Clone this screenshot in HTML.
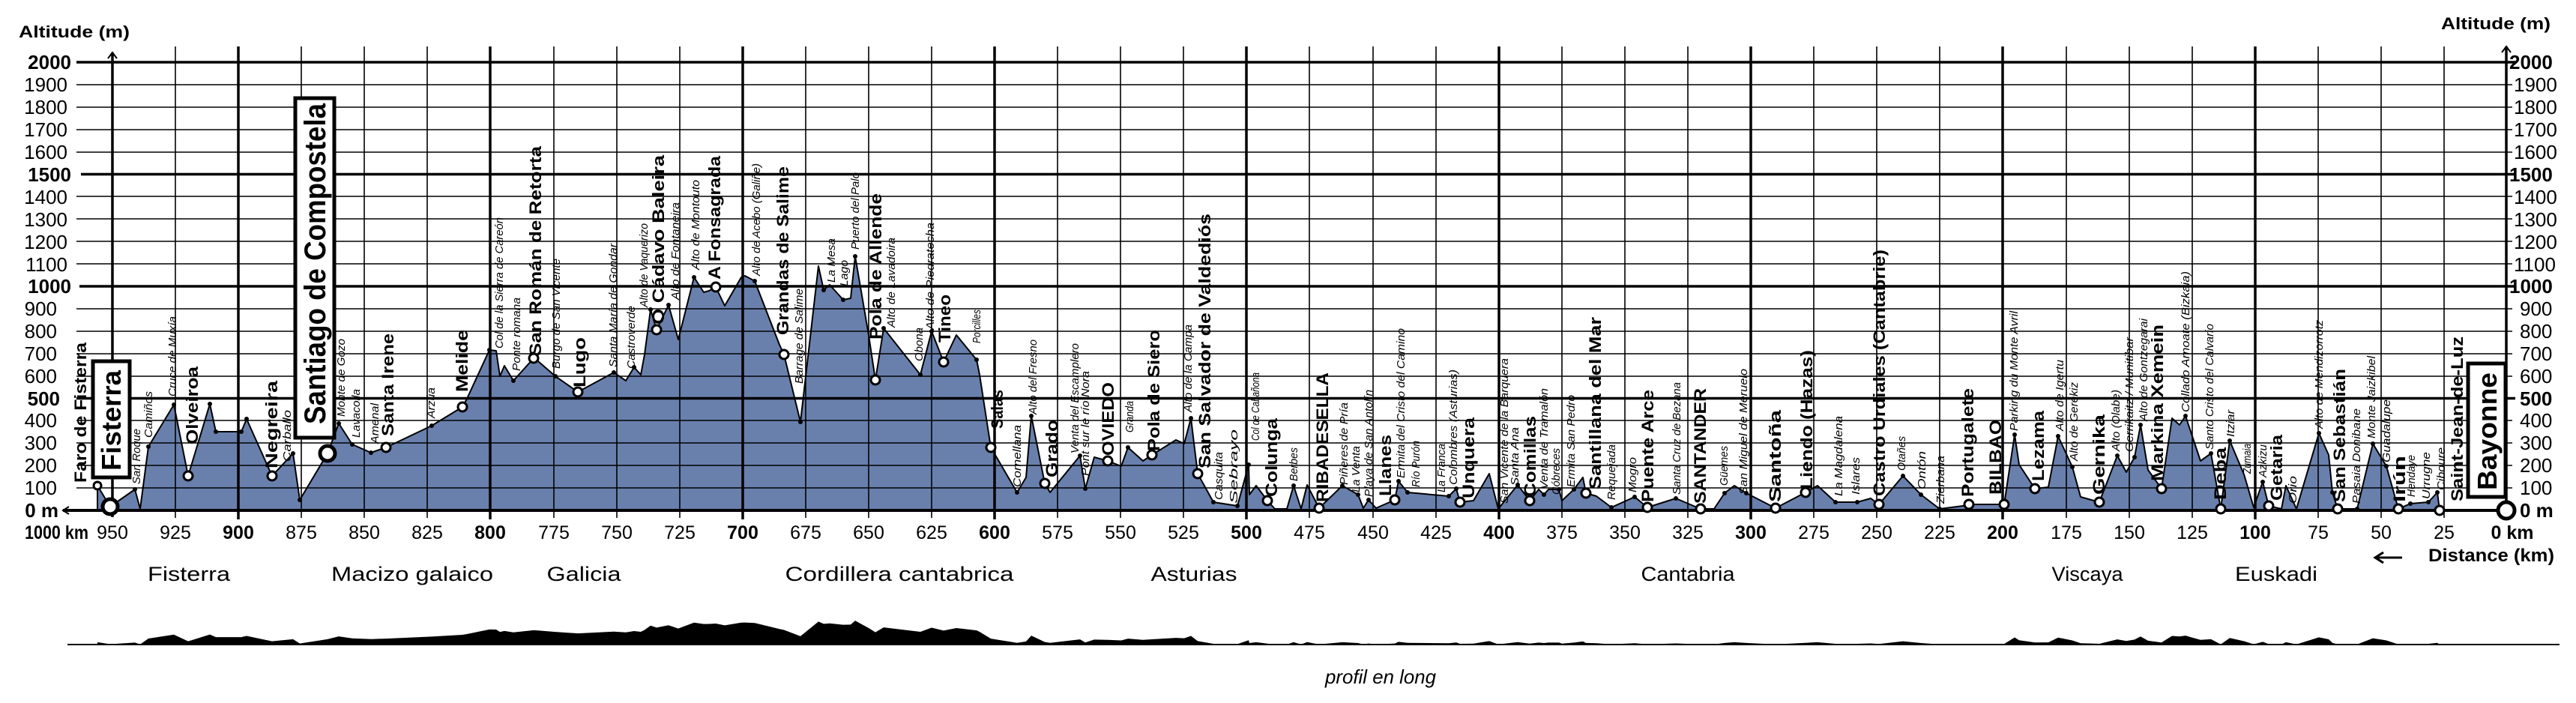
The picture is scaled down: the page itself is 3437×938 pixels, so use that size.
<!DOCTYPE html>
<html><head><meta charset="utf-8"><style>
html,body{margin:0;padding:0;background:#fff;}
svg{display:block;}
text{font-family:"Liberation Sans",sans-serif;fill:#000;}
.b{font-weight:bold;font-size:22px;}
.i{font-style:italic;font-size:15px;}
.ax{font-size:26px;}
.axb{font-size:26px;font-weight:bold;}
.km{font-size:25px;}
.kmb{font-size:25px;font-weight:bold;}
.rg{font-size:27px;}
</style></head><body>
<svg width="3437" height="938" viewBox="0 0 3437 938" xmlns="http://www.w3.org/2000/svg">
<defs>
<polygon id="prof" points="130,681 130,648 147,676 180,653 187,679 198,596 232,540 251,635 280,539 288,576 322,576 329,559 363,635 391,605 400,667 437,605 452,565 470,593 495,604 515,597 576,568 617,543 623,532 653,467 662,468 667,502 673,488 685,508 712,478 718,482 741,502 771,523 819,497 835,508 846,490 855,500 860,473 868,413 876,440 892,407 905,453 926,370 939,390 946,388 955,383 967,408 989,370 994,368 1007,375 1040,460 1046,473 1068,563 1092,355 1099,387 1107,380 1125,400 1135,398 1141,342 1159,447 1168,507 1179,438 1228,500 1243,442 1259,483 1276,447 1303,480 1307,500 1322,597 1357,657 1369,637 1376,555 1394,645 1401,657 1441,608 1448,652 1460,610 1478,615 1496,622 1505,597 1525,615 1537,607 1569,587 1580,592 1589,558 1598,632 1619,670 1651,675 1666,620 1667,660 1676,648 1691,668 1701,679 1717,679 1726,648 1736,679 1744,647 1760,678 1791,648 1812,660 1819,678 1826,667 1836,678 1861,667 1866,642 1878,657 1933,662 1943,652 1948,670 1966,668 1987,632 1999,679 2025,647 2041,668 2053,653 2060,660 2066,653 2080,653 2084,668 2100,653 2112,637 2116,658 2130,662 2150,677 2181,663 2198,677 2236,665 2269,679 2287,679 2301,658 2314,648 2330,658 2369,678 2409,657 2425,648 2449,670 2478,670 2496,665 2507,673 2539,635 2563,660 2588,679 2619,675 2627,673 2674,673 2688,580 2694,620 2715,652 2733,650 2746,582 2765,623 2776,663 2801,670 2825,608 2837,630 2848,610 2856,567 2866,627 2884,652 2898,558 2908,567 2916,555 2936,615 2950,605 2963,679 2975,588 2994,633 3007,677 3019,643 3027,675 3044,679 3050,648 3064,679 3094,578 3107,607 3112,657 3119,679 3145,679 3166,592 3184,622 3200,679 3216,672 3240,670 3252,657 3255,681 3344,681"/>
</defs>

<!-- fill -->
<use href="#prof" fill="#6980ad"/>

<!-- horizontal grid -->
<g stroke="#000" stroke-width="1.6">
<line x1="102" y1="651" x2="3352" y2="651"/>
<line x1="102" y1="621" x2="3352" y2="621"/>
<line x1="102" y1="591" x2="3352" y2="591"/>
<line x1="102" y1="561" x2="3352" y2="561"/>
<line x1="102" y1="502" x2="3352" y2="502"/>
<line x1="102" y1="472" x2="3352" y2="472"/>
<line x1="102" y1="442" x2="3352" y2="442"/>
<line x1="102" y1="412" x2="3352" y2="412"/>
<line x1="102" y1="352" x2="3352" y2="352"/>
<line x1="102" y1="322" x2="3352" y2="322"/>
<line x1="102" y1="292" x2="3352" y2="292"/>
<line x1="102" y1="262" x2="3352" y2="262"/>
<line x1="102" y1="203" x2="3352" y2="203"/>
<line x1="102" y1="173" x2="3352" y2="173"/>
<line x1="102" y1="143" x2="3352" y2="143"/>
<line x1="102" y1="113" x2="3352" y2="113"/>
</g>
<g stroke="#000" stroke-width="3.5">
<line x1="102" y1="531.5" x2="3356" y2="531.5"/>
<line x1="106" y1="382" x2="3356" y2="382"/>
<line x1="108" y1="232.5" x2="3356" y2="232.5"/>
<line x1="102" y1="83" x2="3356" y2="83"/>
</g>
<!-- vertical grid -->
<g stroke="#000" stroke-width="1.6">
<line x1="234" y1="62" x2="234" y2="691"/><line x1="318" y1="62" x2="318" y2="691"/><line x1="402" y1="62" x2="402" y2="691"/><line x1="486" y1="62" x2="486" y2="691"/><line x1="570" y1="62" x2="570" y2="691"/>
<line x1="739" y1="62" x2="739" y2="691"/><line x1="823" y1="62" x2="823" y2="691"/><line x1="907" y1="62" x2="907" y2="691"/>
<line x1="1075" y1="62" x2="1075" y2="691"/><line x1="1159" y1="62" x2="1159" y2="691"/><line x1="1243" y1="62" x2="1243" y2="691"/>
<line x1="1411" y1="62" x2="1411" y2="691"/><line x1="1495" y1="62" x2="1495" y2="691"/><line x1="1579" y1="62" x2="1579" y2="691"/>
<line x1="1747" y1="62" x2="1747" y2="691"/><line x1="1832" y1="62" x2="1832" y2="691"/><line x1="1916" y1="62" x2="1916" y2="691"/>
<line x1="2084" y1="62" x2="2084" y2="691"/><line x1="2168" y1="62" x2="2168" y2="691"/><line x1="2252" y1="62" x2="2252" y2="691"/>
<line x1="2420" y1="62" x2="2420" y2="691"/><line x1="2504" y1="62" x2="2504" y2="691"/><line x1="2588" y1="62" x2="2588" y2="691"/>
<line x1="2757" y1="62" x2="2757" y2="691"/><line x1="2841" y1="62" x2="2841" y2="691"/><line x1="2925" y1="62" x2="2925" y2="691"/>
<line x1="3093" y1="62" x2="3093" y2="691"/><line x1="3177" y1="62" x2="3177" y2="691"/><line x1="3261" y1="62" x2="3261" y2="691"/>
</g>
<g stroke="#000" stroke-width="3.5">
<line x1="318" y1="62" x2="318" y2="693"/><line x1="654" y1="62" x2="654" y2="693"/><line x1="991" y1="62" x2="991" y2="693"/><line x1="1327" y1="62" x2="1327" y2="693"/><line x1="1663" y1="62" x2="1663" y2="693"/><line x1="2000" y1="62" x2="2000" y2="693"/><line x1="2336" y1="62" x2="2336" y2="693"/><line x1="2672" y1="62" x2="2672" y2="693"/><line x1="3009" y1="62" x2="3009" y2="693"/>
</g>
<!-- axes -->
<g stroke="#000" stroke-width="3.5" fill="none">
<line x1="150" y1="70" x2="150" y2="690"/>
<polyline points="144,78 150,70 156,78" stroke-width="2"/>
<line x1="3344" y1="62" x2="3344" y2="681"/>
<polyline points="3338,70 3344,62 3350,70" stroke-width="2"/>
<line x1="84" y1="681" x2="3344" y2="681" stroke-width="4"/>
<polyline points="92,676 84,681 92,686" stroke-width="2"/>
</g>

<!-- profile outline -->
<use href="#prof" fill="none" stroke="#000" stroke-width="2" stroke-linejoin="round"/>

<!-- small dots -->
<g fill="#000">
<circle cx="180" cy="653" r="3"/><circle cx="198" cy="596" r="3"/><circle cx="232" cy="540" r="3"/><circle cx="280" cy="539" r="3"/><circle cx="288" cy="576" r="3"/><circle cx="322" cy="576" r="3"/><circle cx="329" cy="559" r="3"/><circle cx="391" cy="605" r="3"/><circle cx="400" cy="667" r="3"/><circle cx="452" cy="565" r="3"/><circle cx="470" cy="593" r="3"/><circle cx="495" cy="604" r="3"/><circle cx="576" cy="568" r="3"/><circle cx="653" cy="467" r="3"/><circle cx="685" cy="508" r="3"/><circle cx="741" cy="502" r="3"/><circle cx="819" cy="497" r="3"/><circle cx="846" cy="490" r="3"/><circle cx="868" cy="413" r="3"/><circle cx="892" cy="407" r="3"/><circle cx="926" cy="370" r="3"/><circle cx="1007" cy="375" r="3"/><circle cx="1068" cy="563" r="3"/><circle cx="1099" cy="387" r="3"/><circle cx="1125" cy="400" r="3"/><circle cx="1141" cy="342" r="3"/><circle cx="1179" cy="438" r="3"/><circle cx="1228" cy="500" r="3"/><circle cx="1243" cy="442" r="3"/><circle cx="1303" cy="480" r="3"/><circle cx="1357" cy="657" r="3"/><circle cx="1376" cy="555" r="3"/><circle cx="1441" cy="608" r="3"/><circle cx="1448" cy="652" r="3"/><circle cx="1505" cy="597" r="3"/><circle cx="1589" cy="558" r="3"/><circle cx="1619" cy="670" r="3"/><circle cx="1651" cy="675" r="3"/><circle cx="1666" cy="620" r="3"/><circle cx="1726" cy="648" r="3"/><circle cx="1791" cy="648" r="3"/><circle cx="1812" cy="660" r="3"/><circle cx="1826" cy="667" r="3"/><circle cx="1866" cy="642" r="3"/><circle cx="1878" cy="657" r="3"/><circle cx="1933" cy="662" r="3"/><circle cx="1943" cy="652" r="3"/><circle cx="2025" cy="647" r="3"/><circle cx="2060" cy="660" r="3"/><circle cx="2080" cy="653" r="3"/><circle cx="2100" cy="653" r="3"/><circle cx="2150" cy="677" r="3"/><circle cx="2181" cy="663" r="3"/><circle cx="2236" cy="665" r="3"/><circle cx="2301" cy="658" r="3"/><circle cx="2330" cy="658" r="3"/><circle cx="2449" cy="670" r="3"/><circle cx="2478" cy="670" r="3"/><circle cx="2539" cy="635" r="3"/><circle cx="2563" cy="660" r="3"/><circle cx="2588" cy="679" r="3"/><circle cx="2688" cy="580" r="3"/><circle cx="2746" cy="582" r="3"/><circle cx="2765" cy="623" r="3"/><circle cx="2825" cy="608" r="3"/><circle cx="2848" cy="610" r="3"/><circle cx="2856" cy="567" r="3"/><circle cx="2916" cy="555" r="3"/><circle cx="2950" cy="605" r="3"/><circle cx="2975" cy="588" r="3"/><circle cx="3019" cy="643" r="3"/><circle cx="3094" cy="578" r="3"/><circle cx="3112" cy="657" r="3"/><circle cx="3145" cy="679" r="3"/><circle cx="3166" cy="592" r="3"/><circle cx="3184" cy="622" r="3"/><circle cx="3216" cy="672" r="3"/><circle cx="3240" cy="670" r="3"/><circle cx="3252" cy="657" r="3"/>
</g>
<!-- town circles -->
<g fill="#fff" stroke="#000" stroke-width="3">
<circle cx="130" cy="648" r="5"/>
<circle cx="251" cy="635" r="6"/><circle cx="363" cy="635" r="6"/><circle cx="515" cy="597" r="6"/><circle cx="617" cy="543" r="6"/><circle cx="712" cy="478" r="6"/><circle cx="771" cy="523" r="6"/><circle cx="876" cy="440" r="6"/><circle cx="955" cy="383" r="6"/><circle cx="1046" cy="473" r="6"/><circle cx="1168" cy="507" r="6"/><circle cx="1259" cy="483" r="6"/><circle cx="1322" cy="597" r="6"/><circle cx="1394" cy="645" r="6"/><circle cx="1478" cy="615" r="6"/><circle cx="1537" cy="607" r="6"/><circle cx="1598" cy="632" r="6"/><circle cx="1691" cy="668" r="6"/><circle cx="1760" cy="678" r="6"/><circle cx="1861" cy="667" r="6"/><circle cx="1948" cy="670" r="6"/><circle cx="2041" cy="668" r="6"/><circle cx="2116" cy="658" r="6"/><circle cx="2198" cy="677" r="6"/><circle cx="2269" cy="679" r="6"/><circle cx="2369" cy="678" r="6"/><circle cx="2409" cy="657" r="6"/><circle cx="2507" cy="673" r="6"/><circle cx="2627" cy="673" r="6"/><circle cx="2674" cy="673" r="6"/><circle cx="2715" cy="652" r="6"/><circle cx="2801" cy="670" r="6"/><circle cx="2884" cy="652" r="6"/><circle cx="2963" cy="679" r="6"/><circle cx="3027" cy="675" r="6"/><circle cx="3119" cy="679" r="6"/><circle cx="3200" cy="679" r="6"/><circle cx="3255" cy="681" r="6"/>
<circle cx="437" cy="605" r="10" stroke-width="5"/>
<circle cx="147" cy="676" r="10" stroke-width="5"/>
<circle cx="3344" cy="681" r="11" stroke-width="5"/>
</g>

<!-- boxes -->
<g fill="#fff" stroke="#000" stroke-width="5">
<rect x="124" y="482" width="49" height="155"/>
<rect x="394" y="131" width="52" height="453"/>
<rect x="3293" y="485" width="50" height="178"/>
</g>
<text class="b" style="font-size:36px" transform="translate(161,628) rotate(-90)" textLength="134" lengthAdjust="spacingAndGlyphs">Fisterra</text>
<text class="b" style="font-size:40px" transform="translate(434,566) rotate(-90)" textLength="428" lengthAdjust="spacingAndGlyphs">Santiago de Compostela</text>
<text class="b" style="font-size:36px" transform="translate(3331,654) rotate(-90)" textLength="157" lengthAdjust="spacingAndGlyphs">Bayonne</text>

<!-- bold labels -->
<g class="b">
<text class="b" transform="translate(115,644) rotate(-90)" textLength="187" lengthAdjust="spacingAndGlyphs">Faro de Fisterra</text>
<text class="b" transform="translate(264,593) rotate(-90)" textLength="104" lengthAdjust="spacingAndGlyphs">Olveiroa</text>
<text class="b" transform="translate(370,625) rotate(-90)" textLength="117" lengthAdjust="spacingAndGlyphs">Negreira</text>
<text class="b" transform="translate(525,582) rotate(-90)" textLength="137" lengthAdjust="spacingAndGlyphs">Santa Irene</text>
<text class="b" transform="translate(624,523) rotate(-90)" textLength="83" lengthAdjust="spacingAndGlyphs">Melide</text>
<text class="b" transform="translate(722,475) rotate(-90)" textLength="280" lengthAdjust="spacingAndGlyphs">San Román de Retorta</text>
<text class="b" transform="translate(781,517) rotate(-90)" textLength="67" lengthAdjust="spacingAndGlyphs">Lugo</text>
<text class="b" transform="translate(886,433) rotate(-90)" textLength="226" lengthAdjust="spacingAndGlyphs">O Cádavo Baleira</text>
<text class="b" transform="translate(961,373) rotate(-90)" textLength="165" lengthAdjust="spacingAndGlyphs">A Fonsagrada</text>
<text class="b" transform="translate(1052,447) rotate(-90)" textLength="225" lengthAdjust="spacingAndGlyphs">Grandas de Salime</text>
<text class="b" transform="translate(1176,453) rotate(-90)" textLength="195" lengthAdjust="spacingAndGlyphs">Pola de Allende</text>
<text class="b" transform="translate(1268,457) rotate(-90)" textLength="64" lengthAdjust="spacingAndGlyphs">Tineo</text>
<text class="b" transform="translate(1338,572) rotate(-90)" textLength="52" lengthAdjust="spacingAndGlyphs">Salas</text>
<text class="b" transform="translate(1411,637) rotate(-90)" textLength="77" lengthAdjust="spacingAndGlyphs">Grado</text>
<text class="b" transform="translate(1486,608) rotate(-90)" textLength="98" lengthAdjust="spacingAndGlyphs">OVIEDO</text>
<text class="b" transform="translate(1547,602) rotate(-90)" textLength="162" lengthAdjust="spacingAndGlyphs">Pola de Siero</text>
<text class="b" transform="translate(1615,625) rotate(-90)" textLength="340" lengthAdjust="spacingAndGlyphs">San Salvador de Valdediós</text>
<text class="b" transform="translate(1704,663) rotate(-90)" textLength="105" lengthAdjust="spacingAndGlyphs">Colunga</text>
<text class="b" transform="translate(1772,670) rotate(-90)" textLength="173" lengthAdjust="spacingAndGlyphs">RIBADESELLA</text>
<text class="b" transform="translate(1856,662) rotate(-90)" textLength="82" lengthAdjust="spacingAndGlyphs">Llanes</text>
<text class="b" transform="translate(1967,665) rotate(-90)" textLength="108" lengthAdjust="spacingAndGlyphs">Unquera</text>
<text class="b" transform="translate(2049,663) rotate(-90)" textLength="108" lengthAdjust="spacingAndGlyphs">Comillas</text>
<text class="b" transform="translate(2136,653) rotate(-90)" textLength="230" lengthAdjust="spacingAndGlyphs">Santillana del Mar</text>
<text class="b" transform="translate(2206,670) rotate(-90)" textLength="150" lengthAdjust="spacingAndGlyphs">Puente Arce</text>
<text class="b" transform="translate(2276,672) rotate(-90)" textLength="154" lengthAdjust="spacingAndGlyphs">SANTANDER</text>
<text class="b" transform="translate(2376,670) rotate(-90)" textLength="123" lengthAdjust="spacingAndGlyphs">Santoña</text>
<text class="b" transform="translate(2418,653) rotate(-90)" textLength="186" lengthAdjust="spacingAndGlyphs">Liendo (Hazas)</text>
<text class="b" transform="translate(2515,662) rotate(-90)" textLength="329" lengthAdjust="spacingAndGlyphs">Castro Urdiales (Cantabrie)</text>
<text class="b" transform="translate(2633,663) rotate(-90)" textLength="145" lengthAdjust="spacingAndGlyphs">Portugalete</text>
<text class="b" transform="translate(2670,660) rotate(-90)" textLength="100" lengthAdjust="spacingAndGlyphs">BILBAO</text>
<text class="b" transform="translate(2727,642) rotate(-90)" textLength="94" lengthAdjust="spacingAndGlyphs">Lezama</text>
<text class="b" transform="translate(2808,660) rotate(-90)" textLength="107" lengthAdjust="spacingAndGlyphs">Gernika</text>
<text class="b" transform="translate(2886,642) rotate(-90)" textLength="209" lengthAdjust="spacingAndGlyphs">Markina Xemein</text>
<text class="b" transform="translate(2970,667) rotate(-90)" textLength="70" lengthAdjust="spacingAndGlyphs">Deba</text>
<text class="b" transform="translate(3045,668) rotate(-90)" textLength="88" lengthAdjust="spacingAndGlyphs">Getaria</text>
<text class="b" transform="translate(3129,670) rotate(-90)" textLength="178" lengthAdjust="spacingAndGlyphs">San Sebastián</text>
<text class="b" transform="translate(3209,670) rotate(-90)" textLength="62" lengthAdjust="spacingAndGlyphs">Irún</text>
<text class="b" transform="translate(3286,669) rotate(-90)" textLength="220" lengthAdjust="spacingAndGlyphs">Saint-Jean-de-Luz</text>
</g>

<!-- italic labels -->
<g class="i">
<text class="i" transform="translate(187,646) rotate(-90)" textLength="74" lengthAdjust="spacingAndGlyphs">San Roque</text>
<text class="i" transform="translate(203,584) rotate(-90)" textLength="62" lengthAdjust="spacingAndGlyphs">Camiños</text>
<text class="i" transform="translate(235,529) rotate(-90)" textLength="107" lengthAdjust="spacingAndGlyphs">Cruce de Muxía</text>
<text class="i" transform="translate(388,616) rotate(-90)" textLength="69" lengthAdjust="spacingAndGlyphs">Carballo</text>
<text class="i" transform="translate(460,556) rotate(-90)" textLength="104" lengthAdjust="spacingAndGlyphs">Monte de Gozo</text>
<text class="i" transform="translate(480,584) rotate(-90)" textLength="65" lengthAdjust="spacingAndGlyphs">Lavacolla</text>
<text class="i" transform="translate(505,592) rotate(-90)" textLength="54" lengthAdjust="spacingAndGlyphs">Amenal</text>
<text class="i" transform="translate(580,558) rotate(-90)" textLength="41" lengthAdjust="spacingAndGlyphs">Arzúa</text>
<text class="i" transform="translate(671,465) rotate(-90)" textLength="175" lengthAdjust="spacingAndGlyphs">Col de la Sierra de Careón</text>
<text class="i" transform="translate(694,495) rotate(-90)" textLength="98" lengthAdjust="spacingAndGlyphs">Ponte romana</text>
<text class="i" transform="translate(747,492) rotate(-90)" textLength="147" lengthAdjust="spacingAndGlyphs">Burgo de San Vicente</text>
<text class="i" transform="translate(823,490) rotate(-90)" textLength="165" lengthAdjust="spacingAndGlyphs">Santa María de Gondar</text>
<text class="i" transform="translate(847,492) rotate(-90)" textLength="84" lengthAdjust="spacingAndGlyphs">Castroverde</text>
<text class="i" transform="translate(864,410) rotate(-90)" textLength="112" lengthAdjust="spacingAndGlyphs">Alto de Vaquerizo</text>
<text class="i" transform="translate(906,400) rotate(-90)" textLength="130" lengthAdjust="spacingAndGlyphs">Alto de Fontaneira</text>
<text class="i" transform="translate(933,360) rotate(-90)" textLength="120" lengthAdjust="spacingAndGlyphs">Alto de Montouto</text>
<text class="i" transform="translate(1014,368) rotate(-90)" textLength="150" lengthAdjust="spacingAndGlyphs">Alto de Acebo (Galiñe)</text>
<text class="i" transform="translate(1071,512) rotate(-90)" textLength="127" lengthAdjust="spacingAndGlyphs">Barrage de Salime</text>
<text class="i" transform="translate(1114,377) rotate(-90)" textLength="59" lengthAdjust="spacingAndGlyphs">La Mesa</text>
<text class="i" transform="translate(1131,382) rotate(-90)" textLength="35" lengthAdjust="spacingAndGlyphs">Lago</text>
<text class="i" transform="translate(1146,333) rotate(-90)" textLength="103" lengthAdjust="spacingAndGlyphs">Puerto del Palo</text>
<text class="i" transform="translate(1194,437) rotate(-90)" textLength="120" lengthAdjust="spacingAndGlyphs">Alto de Lavadoira</text>
<text class="i" transform="translate(1231,482) rotate(-90)" textLength="45" lengthAdjust="spacingAndGlyphs">Obona</text>
<text class="i" transform="translate(1246,440) rotate(-90)" textLength="143" lengthAdjust="spacingAndGlyphs">Alto de Piedratecha</text>
<text class="i" transform="translate(1308,458) rotate(-90)" textLength="45" lengthAdjust="spacingAndGlyphs">Porcilles</text>
<text class="i" transform="translate(1362,650) rotate(-90)" textLength="83" lengthAdjust="spacingAndGlyphs">Cornellana</text>
<text class="i" transform="translate(1383,553) rotate(-90)" textLength="100" lengthAdjust="spacingAndGlyphs">Alto del Fresno</text>
<text class="i" transform="translate(1439,605) rotate(-90)" textLength="147" lengthAdjust="spacingAndGlyphs">Venta del Escamplero</text>
<text class="i" transform="translate(1453,635) rotate(-90)" textLength="140" lengthAdjust="spacingAndGlyphs">Pont sur le río Nora</text>
<text class="i" transform="translate(1512,577) rotate(-90)" textLength="42" lengthAdjust="spacingAndGlyphs">Granda</text>
<text class="i" transform="translate(1590,550) rotate(-90)" textLength="117" lengthAdjust="spacingAndGlyphs">Alto de la Campa</text>
<text class="i" transform="translate(1631,667) rotate(-90)" textLength="64" lengthAdjust="spacingAndGlyphs">Casquita</text>
<text class="i" transform="translate(1651,672) rotate(-90)" textLength="99" lengthAdjust="spacingAndGlyphs">Sebrayo</text>
<text class="i" transform="translate(1680,588) rotate(-90)" textLength="91" lengthAdjust="spacingAndGlyphs">Col de Cabañona</text>
<text class="i" transform="translate(1731,642) rotate(-90)" textLength="45" lengthAdjust="spacingAndGlyphs">Berbes</text>
<text class="i" transform="translate(1798,647) rotate(-90)" textLength="110" lengthAdjust="spacingAndGlyphs">Piñeres de Pría</text>
<text class="i" transform="translate(1814,657) rotate(-90)" textLength="62" lengthAdjust="spacingAndGlyphs">La Venta</text>
<text class="i" transform="translate(1831,663) rotate(-90)" textLength="143" lengthAdjust="spacingAndGlyphs">Playa de San Antolín</text>
<text class="i" transform="translate(1874,638) rotate(-90)" textLength="200" lengthAdjust="spacingAndGlyphs">Ermita del Cristo del Camino</text>
<text class="i" transform="translate(1894,650) rotate(-90)" textLength="62" lengthAdjust="spacingAndGlyphs">Río Purón</text>
<text class="i" transform="translate(1928,657) rotate(-90)" textLength="65" lengthAdjust="spacingAndGlyphs">La Franca</text>
<text class="i" transform="translate(1944,647) rotate(-90)" textLength="154" lengthAdjust="spacingAndGlyphs">Colombres (Asturias)</text>
<text class="i" transform="translate(2012,672) rotate(-90)" textLength="194" lengthAdjust="spacingAndGlyphs">San Vicente de la Barquera</text>
<text class="i" transform="translate(2026,648) rotate(-90)" textLength="78" lengthAdjust="spacingAndGlyphs">Santa Ana</text>
<text class="i" transform="translate(2065,653) rotate(-90)" textLength="135" lengthAdjust="spacingAndGlyphs">Venta de Tramalón</text>
<text class="i" transform="translate(2081,660) rotate(-90)" textLength="62" lengthAdjust="spacingAndGlyphs">Cóbreces</text>
<text class="i" transform="translate(2101,650) rotate(-90)" textLength="123" lengthAdjust="spacingAndGlyphs">Ermita San Pedro</text>
<text class="i" transform="translate(2155,667) rotate(-90)" textLength="74" lengthAdjust="spacingAndGlyphs">Requejada</text>
<text class="i" transform="translate(2183,657) rotate(-90)" textLength="47" lengthAdjust="spacingAndGlyphs">Mogro</text>
<text class="i" transform="translate(2242,660) rotate(-90)" textLength="150" lengthAdjust="spacingAndGlyphs">Santa Cruz de Bezana</text>
<text class="i" transform="translate(2305,648) rotate(-90)" textLength="53" lengthAdjust="spacingAndGlyphs">Güemes</text>
<text class="i" transform="translate(2331,660) rotate(-90)" textLength="168" lengthAdjust="spacingAndGlyphs">San Miguel de Meruelo</text>
<text class="i" transform="translate(2458,662) rotate(-90)" textLength="107" lengthAdjust="spacingAndGlyphs">La Magdalena</text>
<text class="i" transform="translate(2481,660) rotate(-90)" textLength="50" lengthAdjust="spacingAndGlyphs">Islares</text>
<text class="i" transform="translate(2542,628) rotate(-90)" textLength="46" lengthAdjust="spacingAndGlyphs">Otañes</text>
<text class="i" transform="translate(2569,653) rotate(-90)" textLength="51" lengthAdjust="spacingAndGlyphs">Ontón</text>
<text class="i" transform="translate(2594,672) rotate(-90)" textLength="64" lengthAdjust="spacingAndGlyphs">Zierbana</text>
<text class="i" transform="translate(2692,575) rotate(-90)" textLength="160" lengthAdjust="spacingAndGlyphs">Parking du Monte Avril</text>
<text class="i" transform="translate(2753,575) rotate(-90)" textLength="95" lengthAdjust="spacingAndGlyphs">Alto de Igertu</text>
<text class="i" transform="translate(2772,615) rotate(-90)" textLength="105" lengthAdjust="spacingAndGlyphs">Alto de Gerekiz</text>
<text class="i" transform="translate(2828,602) rotate(-90)" textLength="82" lengthAdjust="spacingAndGlyphs">Alto (Olabe)</text>
<text class="i" transform="translate(2846,603) rotate(-90)" textLength="153" lengthAdjust="spacingAndGlyphs">Gerrikaitz / Munitibar</text>
<text class="i" transform="translate(2865,562) rotate(-90)" textLength="137" lengthAdjust="spacingAndGlyphs">Alto de Gontzegarai</text>
<text class="i" transform="translate(2921,550) rotate(-90)" textLength="188" lengthAdjust="spacingAndGlyphs">Collado Arnoate (Bizkaia)</text>
<text class="i" transform="translate(2953,600) rotate(-90)" textLength="168" lengthAdjust="spacingAndGlyphs">Santo Cristo del Calvario</text>
<text class="i" transform="translate(2981,583) rotate(-90)" textLength="36" lengthAdjust="spacingAndGlyphs">Itziar</text>
<text class="i" transform="translate(3003,632) rotate(-90)" textLength="40" lengthAdjust="spacingAndGlyphs">Zumaia</text>
<text class="i" transform="translate(3024,637) rotate(-90)" textLength="44" lengthAdjust="spacingAndGlyphs">Azkizu</text>
<text class="i" transform="translate(3064,672) rotate(-90)" textLength="37" lengthAdjust="spacingAndGlyphs">Orio</text>
<text class="i" transform="translate(3099,572) rotate(-90)" textLength="145" lengthAdjust="spacingAndGlyphs">Alto de Mendizorrotz</text>
<text class="i" transform="translate(3149,672) rotate(-90)" textLength="127" lengthAdjust="spacingAndGlyphs">Pasaia Donibane</text>
<text class="i" transform="translate(3169,585) rotate(-90)" textLength="110" lengthAdjust="spacingAndGlyphs">Monte Jaizkibel</text>
<text class="i" transform="translate(3189,617) rotate(-90)" textLength="84" lengthAdjust="spacingAndGlyphs">Guadalupe</text>
<text class="i" transform="translate(3222,663) rotate(-90)" textLength="56" lengthAdjust="spacingAndGlyphs">Hendaye</text>
<text class="i" transform="translate(3242,666) rotate(-90)" textLength="63" lengthAdjust="spacingAndGlyphs">Urrugne</text>
<text class="i" transform="translate(3262,654) rotate(-90)" textLength="57" lengthAdjust="spacingAndGlyphs">Ciboure</text>
</g>

<!-- axis titles -->
<text x="25" y="50" font-weight="bold" font-size="22" textLength="148" lengthAdjust="spacingAndGlyphs">Altitude (m)</text>
<text x="3257" y="39" font-weight="bold" font-size="22" textLength="146" lengthAdjust="spacingAndGlyphs">Altitude (m)</text>

<!-- left alt labels -->
<g text-anchor="end">
<text class="axb" x="95" y="92">2000</text>
<text class="ax" x="90" y="122">1900</text>
<text class="ax" x="90" y="152">1800</text>
<text class="ax" x="90" y="182">1700</text>
<text class="ax" x="90" y="212">1600</text>
<text class="axb" x="95" y="242">1500</text>
<text class="ax" x="90" y="272">1400</text>
<text class="ax" x="90" y="302">1300</text>
<text class="ax" x="90" y="332">1200</text>
<text class="ax" x="90" y="362">1100</text>
<text class="axb" x="95" y="391">1000</text>
<text class="ax" x="76" y="421">900</text>
<text class="ax" x="76" y="451">800</text>
<text class="ax" x="76" y="481">700</text>
<text class="ax" x="76" y="511">600</text>
<text class="axb" x="80" y="541">500</text>
<text class="ax" x="76" y="570">400</text>
<text class="ax" x="76" y="600">300</text>
<text class="ax" x="76" y="630">200</text>
<text class="ax" x="76" y="660">100</text>
<text class="axb" x="78" y="690">0 m</text>
</g>
<!-- right alt labels -->
<g>
<text class="axb" x="3348" y="92">2000</text>
<text class="ax" x="3354" y="122">1900</text>
<text class="ax" x="3354" y="152">1800</text>
<text class="ax" x="3354" y="182">1700</text>
<text class="ax" x="3354" y="212">1600</text>
<text class="axb" x="3348" y="242">1500</text>
<text class="ax" x="3354" y="272">1400</text>
<text class="ax" x="3354" y="302">1300</text>
<text class="ax" x="3354" y="332">1200</text>
<text class="ax" x="3354" y="362">1100</text>
<text class="axb" x="3348" y="391">1000</text>
<text class="ax" x="3362" y="421">900</text>
<text class="ax" x="3362" y="451">800</text>
<text class="ax" x="3362" y="481">700</text>
<text class="ax" x="3362" y="511">600</text>
<text class="axb" x="3362" y="541">500</text>
<text class="ax" x="3362" y="570">400</text>
<text class="ax" x="3362" y="600">300</text>
<text class="ax" x="3362" y="630">200</text>
<text class="ax" x="3362" y="660">100</text>
<text class="axb" x="3362" y="690">0 m</text>
</g>

<!-- km labels -->
<text class="kmb" x="33" y="719" textLength="85" lengthAdjust="spacingAndGlyphs">1000 km</text>
<g text-anchor="middle">
<text class="km" x="150" y="719">950</text><text class="km" x="234" y="719">925</text><text class="kmb" x="318" y="719">900</text><text class="km" x="402" y="719">875</text><text class="km" x="486" y="719">850</text><text class="km" x="570" y="719">825</text><text class="kmb" x="654" y="719">800</text><text class="km" x="739" y="719">775</text><text class="km" x="823" y="719">750</text><text class="km" x="907" y="719">725</text><text class="kmb" x="991" y="719">700</text><text class="km" x="1075" y="719">675</text><text class="km" x="1159" y="719">650</text><text class="km" x="1243" y="719">625</text><text class="kmb" x="1327" y="719">600</text><text class="km" x="1411" y="719">575</text><text class="km" x="1495" y="719">550</text><text class="km" x="1579" y="719">525</text><text class="kmb" x="1663" y="719">500</text><text class="km" x="1747" y="719">475</text><text class="km" x="1832" y="719">450</text><text class="km" x="1916" y="719">425</text><text class="kmb" x="2000" y="719">400</text><text class="km" x="2084" y="719">375</text><text class="km" x="2168" y="719">350</text><text class="km" x="2252" y="719">325</text><text class="kmb" x="2336" y="719">300</text><text class="km" x="2420" y="719">275</text><text class="km" x="2504" y="719">250</text><text class="km" x="2588" y="719">225</text><text class="kmb" x="2672" y="719">200</text><text class="km" x="2757" y="719">175</text><text class="km" x="2841" y="719">150</text><text class="km" x="2925" y="719">125</text><text class="kmb" x="3009" y="719">100</text><text class="km" x="3093" y="719">75</text><text class="km" x="3177" y="719">50</text><text class="km" x="3261" y="719">25</text>
<text class="kmb" x="3352" y="719">0 km</text>
</g>
<text x="3240" y="749" font-weight="bold" font-size="24" textLength="168" lengthAdjust="spacingAndGlyphs">Distance (km)</text>
<g stroke="#000" stroke-width="3" fill="none">
<line x1="3170" y1="744" x2="3205" y2="744"/>
<polyline points="3180,737 3169,744 3180,751"/>
</g>

<!-- regions -->
<g text-anchor="middle">
<text class="rg" x="252" y="775" textLength="110" lengthAdjust="spacingAndGlyphs">Fisterra</text>
<text class="rg" x="550" y="775" textLength="216" lengthAdjust="spacingAndGlyphs">Macizo galaico</text>
<text class="rg" x="779" y="775" textLength="99" lengthAdjust="spacingAndGlyphs">Galicia</text>
<text class="rg" x="1200" y="775" textLength="305" lengthAdjust="spacingAndGlyphs">Cordillera cantabrica</text>
<text class="rg" x="1593" y="775" textLength="115" lengthAdjust="spacingAndGlyphs">Asturias</text>
<text class="rg" x="2252" y="775" textLength="125" lengthAdjust="spacingAndGlyphs">Cantabria</text>
<text class="rg" x="2785" y="775" textLength="95" lengthAdjust="spacingAndGlyphs">Viscaya</text>
<text class="rg" x="3037" y="775" textLength="110" lengthAdjust="spacingAndGlyphs">Euskadi</text>
</g>

<!-- silhouette -->
<g transform="translate(0,860) scale(1,0.094) translate(0,-681)">
<use href="#prof" fill="#000"/>
</g>
<line x1="90" y1="860" x2="3415" y2="860" stroke="#000" stroke-width="2"/>

<text x="1842" y="912" text-anchor="middle" font-style="italic" font-size="26" textLength="148" lengthAdjust="spacingAndGlyphs">profil en long</text>
</svg>
</body></html>
